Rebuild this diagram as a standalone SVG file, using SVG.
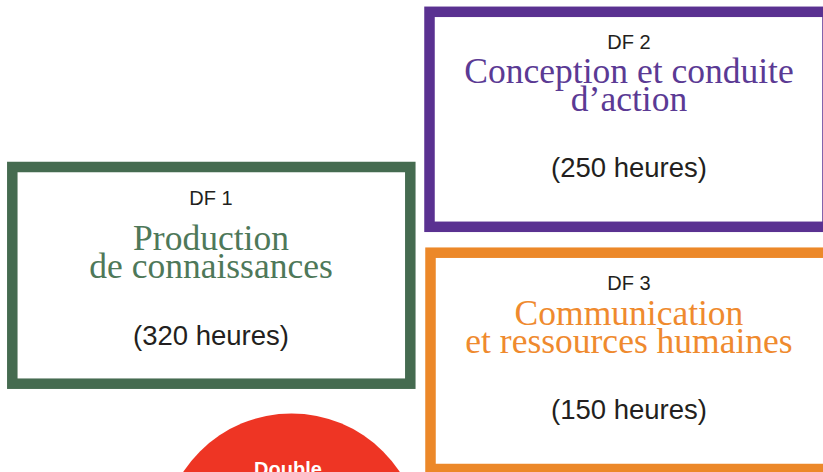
<svg xmlns="http://www.w3.org/2000/svg" width="823" height="472" viewBox="0 0 823 472">
<style>
.box{fill:#ffffff;stroke-width:10.5}
.df{font-family:"Liberation Sans",Arial,sans-serif;font-size:20px;fill:#231f20;text-anchor:middle}
.title{font-family:"Liberation Serif","Times New Roman",serif;font-size:35.5px;text-anchor:middle}
.hrs{font-family:"Liberation Sans",Arial,sans-serif;font-size:27.5px;fill:#231f20;text-anchor:middle}
</style>
<rect width="823" height="472" fill="#ffffff"/>
<g id="df1">
<rect class="box" x="12.3" y="167" width="398" height="216.7" stroke="#456b50"/>
<text class="df" x="211" y="204.5">DF 1</text>
<text class="title" fill="#4e7859" x="211" y="250">Production</text>
<text class="title" fill="#4e7859" x="211" y="277.5">de connaissances</text>
<text class="hrs" x="211" y="345">(320 heures)</text>
</g>
<g id="df2">
<rect class="box" x="429.5" y="11.8" width="398" height="215" stroke="#5a3191"/>
<text class="df" x="629" y="48.5">DF 2</text>
<text class="title" fill="#5b3a94" x="629" y="83">Conception et conduite</text>
<text class="title" fill="#5b3a94" x="629" y="110.5">d’action</text>
<text class="hrs" x="629" y="177">(250 heures)</text>
</g>
<g id="df3">
<rect class="box" x="430.5" y="252.7" width="400" height="216.3" stroke="#ec8829"/>
<text class="df" x="629" y="290">DF 3</text>
<text class="title" fill="#ef8a2e" x="629" y="325">Communication</text>
<text class="title" fill="#ef8a2e" x="629" y="353">et ressources humaines</text>
<text class="hrs" x="629" y="418.5">(150 heures)</text>
</g>
<g id="double">
<circle cx="291.5" cy="543" r="129.5" fill="#ee3524"/>
<text x="288" y="476" font-family="'Liberation Sans',Arial,sans-serif" font-size="20" font-weight="bold" fill="#ffffff" text-anchor="middle">Double</text>
</g>
<g id="connectors"/>
</svg>
